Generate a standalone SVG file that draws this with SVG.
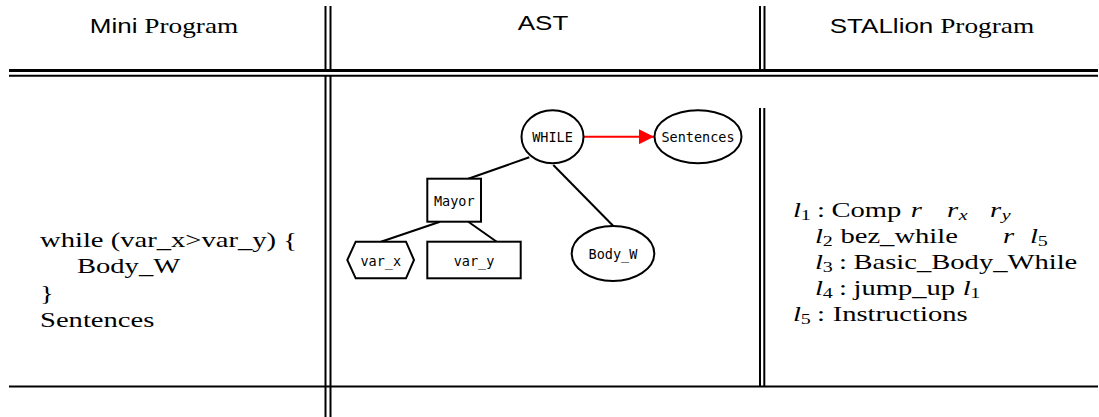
<svg xmlns="http://www.w3.org/2000/svg" width="1099" height="417" viewBox="0 0 1099 417">
  <style>
    .rule { stroke: #000; fill: none; }
    .head-sans { font-family: "Liberation Sans", Arial, sans-serif; font-size: 20px; }
    .head-serif { font-family: "Liberation Serif", "Times New Roman", serif; font-size: 21px; }
    .body { font-family: "Liberation Serif", "Times New Roman", serif; font-size: 22px; fill: #000; }
    .m { font-style: italic; }
    .sub { font-size: 15.4px; }
    .node { fill: #fff; stroke: #000; stroke-width: 2; }
    .label { font-family: "DejaVu Sans Mono", "Liberation Mono", monospace; font-size: 13.5px; fill: #000; text-anchor: middle; dominant-baseline: central; }
    .edge { stroke: #000; stroke-width: 2; fill: none; }
  </style>
  <defs>
    <marker id="red-head" viewBox="0 0 10 10" refX="10" refY="5" markerWidth="24" markerHeight="15" markerUnits="userSpaceOnUse" orient="auto">
      <path d="M0,0 L10,5 L0,10 Z" fill="#f00"/>
    </marker>
  </defs>
  <rect width="1099" height="417" fill="#fff"/>

  <!-- table rules -->
  <g id="table">
    <line class="rule" x1="325.5" y1="6" x2="325.5" y2="69" stroke-width="2"/>
    <line class="rule" x1="330.5" y1="6" x2="330.5" y2="69" stroke-width="2"/>
    <line class="rule" x1="760" y1="6" x2="760" y2="69" stroke-width="2"/>
    <line class="rule" x1="764.5" y1="6" x2="764.5" y2="69" stroke-width="2"/>
    <line class="rule" x1="9" y1="70.5" x2="1098" y2="70.5" stroke-width="3"/>
    <line class="rule" x1="9" y1="75.8" x2="1098" y2="75.8" stroke-width="2"/>
    <line class="rule" x1="325.5" y1="76" x2="325.5" y2="417" stroke-width="2"/>
    <line class="rule" x1="330.5" y1="76" x2="330.5" y2="417" stroke-width="2"/>
    <line class="rule" x1="760" y1="108" x2="760" y2="386" stroke-width="2"/>
    <line class="rule" x1="764.3" y1="108" x2="764.3" y2="386" stroke-width="2"/>
    <line class="rule" x1="9" y1="386.5" x2="1098" y2="386.5" stroke-width="2"/>
  </g>

  <!-- column headings (typeset wide: horizontal scale 1.3) -->
  <g id="headings" transform="scale(1.3,1)">
    <text x="126.2" y="33" text-anchor="middle"><tspan class="head-sans">Mini</tspan><tspan class="head-serif"> Program</tspan></text>
    <text x="417.7" y="30" text-anchor="middle" class="head-sans">AST</text>
    <text x="716.9" y="33" text-anchor="middle"><tspan class="head-sans">STALlion</tspan><tspan class="head-serif"> Program</tspan></text>
  </g>

  <!-- source program -->
  <g id="mini-program" class="body" transform="scale(1.3,1)">
    <text x="30.8" y="247">while (var_x&gt;var_y) {</text>
    <text x="59.2" y="273">Body_W</text>
    <text x="30.8" y="300">}</text>
    <text x="30.8" y="327">Sentences</text>
  </g>

  <!-- AST connectors -->
  <g id="connectors">
    <line class="edge" x1="529.3" y1="157.3" x2="468.3" y2="178.7"/>
    <line class="edge" x1="553.3" y1="165" x2="613.3" y2="226"/>
    <line class="edge" x1="440" y1="221.7" x2="381" y2="241.7"/>
    <line class="edge" x1="468.3" y1="221.7" x2="496.7" y2="241.7"/>
    <line x1="584" y1="136.7" x2="654" y2="136.7" stroke="#f00" stroke-width="2" marker-end="url(#red-head)"/>
  </g>

  <!-- AST nodes -->
  <g id="node-while">
    <ellipse class="node" cx="552.5" cy="136.7" rx="31" ry="26.5"/>
    <text class="label" x="552.5" y="137">WHILE</text>
  </g>
  <g id="node-sentences">
    <ellipse class="node" cx="698" cy="136.7" rx="43.5" ry="26.5"/>
    <text class="label" x="698" y="137">Sentences</text>
  </g>
  <g id="node-mayor">
    <rect class="node" x="427.3" y="178.7" width="53.7" height="43"/>
    <text class="label" x="454.2" y="201">Mayor</text>
  </g>
  <g id="node-var-x">
    <polygon class="node" points="347.3,260 355.7,241.7 406,241.7 414,260 406,278.3 355.7,278.3"/>
    <text class="label" x="380.7" y="260.5">var_x</text>
  </g>
  <g id="node-var-y">
    <rect class="node" x="427.3" y="241.7" width="93.4" height="36.6"/>
    <text class="label" x="474" y="260.5">var_y</text>
  </g>
  <g id="node-body-w">
    <ellipse class="node" cx="613" cy="253.5" rx="41.3" ry="27.5"/>
    <text class="label" x="613" y="254">Body_W</text>
  </g>

  <!-- target program: l1 ... l5 -->
  <g id="stallion-program" class="body" transform="scale(1.3,1)">
    <text y="217"><tspan x="610" class="m">l</tspan><tspan x="615.9" dy="3.3" class="sub">1</tspan><tspan x="628.5" dy="-3.3">:</tspan><tspan x="639.6">Comp</tspan><tspan x="700.5" class="m">r</tspan><tspan x="728.5" class="m">r</tspan><tspan x="737.5" dy="3.3" class="sub m">x</tspan><tspan x="761.5" dy="-3.3" class="m">r</tspan><tspan x="770.5" dy="3.3" class="sub m">y</tspan></text>
    <text y="243"><tspan x="626.9" class="m">l</tspan><tspan x="632.8" dy="3.3" class="sub">2</tspan><tspan x="646.5" dy="-3.3">bez_while</tspan><tspan x="771.5" class="m">r</tspan><tspan x="792.3" class="m">l</tspan><tspan x="798.2" dy="3.3" class="sub">5</tspan></text>
    <text y="269"><tspan x="626.9" class="m">l</tspan><tspan x="632.8" dy="3.3" class="sub">3</tspan><tspan x="645.4" dy="-3.3">:</tspan><tspan x="656.5">Basic_Body_While</tspan></text>
    <text y="295"><tspan x="626.9" class="m">l</tspan><tspan x="632.8" dy="3.3" class="sub">4</tspan><tspan x="645.4" dy="-3.3">:</tspan><tspan x="656.5">jump_up</tspan><tspan x="740.5" class="m">l</tspan><tspan x="746.4" dy="3.3" class="sub">1</tspan></text>
    <text y="321"><tspan x="610" class="m">l</tspan><tspan x="615.9" dy="3.3" class="sub">5</tspan><tspan x="628.5" dy="-3.3">:</tspan><tspan x="640.5">Instructions</tspan></text>
  </g>
</svg>
